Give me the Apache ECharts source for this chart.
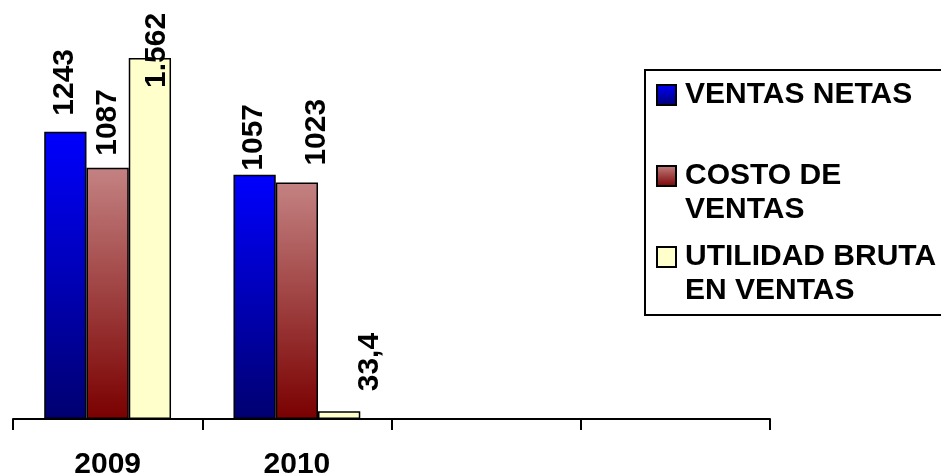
<!DOCTYPE html>
<html>
<head>
<meta charset="utf-8">
<script src="https://cdn.jsdelivr.net/npm/echarts@6/dist/echarts.min.js"></script>
<style>html,body{margin:0;padding:0;background:#fff;}#chart{width:941px;height:476px;}</style>
</head>
<body>
<div id="chart"></div>
<script>
const categories = ['2009', '2010', '', ''];
const seriesNames = ['VENTAS NETAS', 'COSTO DE VENTAS', 'UTILIDAD BRUTA EN VENTAS'];
const legendLabels = ['\nVENTAS NETAS\n', '\nCOSTO DE\nVENTAS', '\nUTILIDAD BRUTA\nEN VENTAS'];
const ventasNetas = [1243, 1057, null, null];
const costoVentas = [1087, 1023, null, null];
const utilidadBruta = [1562, 33.4, null, null];
const ventasNetasLabels = ['1243', '1057'];
const costoVentasLabels = ['1087', '1023'];
const utilidadBrutaLabels = ['1.562', '33,4'];

const FONT = '"Liberation Sans", Arial, sans-serif';

// label nudges: [upward distance from bar top, rightward shift]
const labelNudges = [
  [[16, -1], [4, -1]],
  [[12, 0], [17, 20]],
  [[-30, 7], [20, 31]]
];

function grad(top, bottom) {
  return new echarts.graphic.LinearGradient(0, 0, 0, 1, [
    { offset: 0, color: top }, { offset: 1, color: bottom }
  ]);
}
const fills = [grad('#0000FF', '#000070'), grad('#C48282', '#7A0000'), '#FFFFCC'];
const values = [ventasNetas, costoVentas, utilidadBruta];
const labelTexts = [ventasNetasLabels, costoVentasLabels, utilidadBrutaLabels];

const series = seriesNames.map((name, s) => ({
  name: name,
  type: 'bar',
  barGap: '0%',
  barCategoryGap: '33%',
  itemStyle: { color: fills[s], borderColor: '#000', borderWidth: 1.5 },
  label: {
    show: true,
    position: 'top',
    distance: 0,
    rotate: 90,
    align: 'left',
    verticalAlign: 'middle',
    fontSize: 30,
    fontWeight: 'bold',
    fontFamily: FONT,
    color: '#000',
    formatter: p => labelTexts[s][p.dataIndex]
  },
  data: values[s].map((v, i) => {
    if (v == null) return v;
    const n = labelNudges[s][i];
    return { value: v, label: { offset: [n[0], n[1]] } };
  })
}));

const chart = echarts.init(document.getElementById('chart'));
chart.setOption({
  animation: false,
  backgroundColor: '#fff',
  grid: { left: 13, right: 171, top: 3, bottom: 57, containLabel: false, outerBoundsMode: 'none' },
  xAxis: {
    type: 'category',
    data: categories,
    boundaryGap: true,
    axisLine: { lineStyle: { color: '#000', width: 2 } },
    axisTick: { show: true, interval: 0, length: 11, lineStyle: { color: '#000', width: 2 } },
    axisLabel: { interval: 0, margin: 31, fontSize: 30, fontWeight: 'bold', fontFamily: FONT, color: '#000' },
    splitLine: { show: false }
  },
  yAxis: { type: 'value', min: 0, max: 1800, show: false, splitLine: { show: false } },
  legend: {
    orient: 'vertical',
    left: 645,
    top: 70,
    padding: [-26, 40, 7, 11],
    itemWidth: 19,
    itemHeight: 20,
    itemGap: -21,
    icon: 'rect',
    borderWidth: 0,
    selectedMode: false,
    formatter: name => legendLabels[seriesNames.indexOf(name)],
    textStyle: { fontSize: 30, fontWeight: 'bold', fontFamily: FONT, color: '#000', lineHeight: 34, padding: [0, 0, 0, 4] },
    data: seriesNames
  },
  graphic: [{
    type: 'rect',
    shape: { x: 645, y: 70, width: 330, height: 245 },
    style: { fill: 'none', stroke: '#000', lineWidth: 2 },
    silent: true
  }],
  series: series
});
</script>
</body>
</html>
